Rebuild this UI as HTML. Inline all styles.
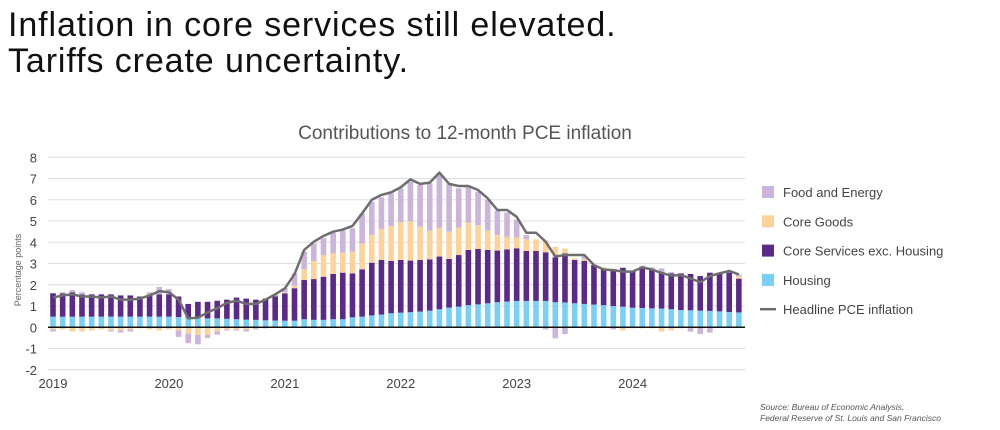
<!DOCTYPE html>
<html><head><meta charset="utf-8"><style>
body{margin:0;background:#fff;width:1000px;height:430px;overflow:hidden;font-family:"Liberation Sans",sans-serif}
.h{position:absolute;left:8px;font-size:34px;color:#111;letter-spacing:0.9px}
</style></head><body>
<div class="h" style="top:6px">Inflation in core services still elevated.</div>
<div class="h" style="top:42px">Tariffs create uncertainty.</div>
<svg id="c" width="1000" height="430" style="position:absolute;left:0;top:0"></svg>
<script>
const years=["2019","2020","2021","2022","2023","2024"];
const yTicks=[-2,-1,0,1,2,3,4,5,6,7,8];
const housing=[.5,.5,.5,.5,.5,.5,.5,.5,.5,.5,.5,.5,.5,.48,.45,.45,.42,.42,.4,.38,.36,.35,.33,.32,
.31,.31,.38,.35,.35,.38,.38,.47,.5,.56,.6,.66,.69,.71,.74,.78,.85,.93,.97,1.04,1.08,1.13,1.18,1.21,1.24,1.24,1.24,1.24,1.18,1.17,1.13,1.1,1.07,1.04,1.0,.97,.92,.91,.89,.88,.85,.81,.8,.78,.77,.75,.72,.7];
const coreServices=[1.1,1.1,1.15,1.05,1.05,1.05,1.05,1.0,1.0,.95,1.0,1.05,1.05,.97,.65,.75,.78,.83,.9,1.02,.99,.95,1.02,1.13,
1.29,1.53,1.85,1.92,2.03,2.13,2.19,2.07,2.23,2.48,2.57,2.46,2.48,2.43,2.43,2.42,2.48,2.29,2.43,2.6,2.61,2.51,2.43,2.46,2.48,2.35,2.35,2.29,2.11,2.31,2.04,2.03,1.86,1.68,1.66,1.83,1.74,1.94,1.85,1.73,1.69,1.73,1.71,1.63,1.8,1.79,1.85,1.59];
const coreGoods=[-.1,-.1,-.2,-.2,-.15,-.1,-.15,-.15,-.1,-.05,-.1,-.15,-.1,-.15,-.3,-.35,-.35,-.2,-.1,-.1,-.1,-.05,0,0,
.05,.11,.5,.85,1.02,.97,.94,1.02,1.22,1.31,1.46,1.65,1.77,1.85,1.57,1.35,1.34,1.28,1.3,1.29,1.11,.91,.74,.6,.51,.55,.55,.55,.5,.23,.08,.07,0,.1,0,-.15,-.05,-.05,-.05,-.2,-.15,-.05,0,0,0,0,0,.12];
const foodEnergy=[-.1,.05,.1,.1,0,0,-.05,-.1,-.1,0,.15,.35,.25,-.3,-.45,-.45,-.15,-.15,-.05,-.05,-.1,-.05,-.05,.1,
.2,.59,.83,.83,.79,.97,1.04,1.1,1.41,1.56,1.49,1.53,1.6,1.86,1.96,2.23,2.58,2.25,1.84,1.69,1.58,1.44,1.14,1.13,.84,.2,0,-.1,-.52,-.32,0,.15,0,0,-.1,0,0,.05,.08,.16,.06,0,-.2,-.32,-.25,0,0,.08];
const headline=[1.4,1.5,1.55,1.45,1.45,1.4,1.45,1.3,1.3,1.35,1.5,1.7,1.65,1.3,.42,.45,.7,.9,1.15,1.25,1.1,1.1,1.3,1.55,
1.83,2.5,3.64,4.03,4.3,4.5,4.6,4.77,5.36,6.0,6.23,6.35,6.59,6.96,6.75,6.81,7.28,6.75,6.65,6.65,6.46,6.07,5.52,5.52,5.2,4.45,4.45,4.03,3.33,3.4,3.4,3.4,2.93,2.72,2.69,2.62,2.62,2.82,2.72,2.56,2.43,2.46,2.3,2.12,2.41,2.54,2.65,2.49];
const seriesNames=["Food and Energy","Core Goods","Core Services exc. Housing","Housing","Headline PCE inflation"];
const colors={h:"#78d0f6",s:"#5b2a88",g:"#fdd39a",f:"#cbb5db",l:"#6e6e6e"};
const NS="http://www.w3.org/2000/svg",svg=document.getElementById("c");
const X=i=>53+i*9.66, Y=v=>327.3-v*21.25;
function mk(t,a,p){const e=document.createElementNS(NS,t);for(const k in a)e.setAttribute(k,a[k]);(p||svg).appendChild(e);return e;}
let t=mk("text",{x:465,y:139,"text-anchor":"middle","font-size":19,fill:"#555"});t.textContent="Contributions to 12-month PCE inflation";


yTicks.forEach(v=>{
 const g=mk("line",{x1:48,x2:745,y1:Y(v),y2:Y(v),stroke:"#dedede","stroke-width":1});
 
 
 const l=mk("text",{x:37,y:Y(v)+5,"text-anchor":"end","font-size":13,fill:"#444"});l.textContent=v;
 
 
});
t=mk("text",{x:21,y:270,"text-anchor":"middle","font-size":9,fill:"#666",transform:"rotate(-90 21 270)"});t.textContent="Percentage points";


const segs=[[housing,colors.h],[coreServices,colors.s],[coreGoods,colors.g],[foodEnergy,colors.f]];
for(let i=0;i<headline.length;i++){
 let pos=0,neg=0;
 segs.forEach(([arr,c])=>{const v=arr[i];let y0,y1;
  if(v>=0){y0=pos;y1=pos+v;pos=y1;}else{y0=neg+v;y1=neg;neg=y0;}
  const r=mk("rect",{x:X(i)-2.8,y:Y(y1),width:5.6,height:Math.max(0,Y(y0)-Y(y1)),fill:c});
  
  
 });
}
const z=mk("line",{x1:48,x2:745,y1:Y(0),y2:Y(0),stroke:"#111","stroke-width":1.5});


const ln=mk("polyline",{points:headline.map((v,i)=>X(i)+","+Y(v)).join(" "),fill:"none",stroke:colors.l,"stroke-width":2.5,"stroke-linejoin":"round"});


years.forEach((y,k)=>{const l=mk("text",{x:X(k*12),y:388,"text-anchor":"middle","font-size":13,fill:"#444"});l.textContent=y;
 
 
});
const lc=[colors.f,colors.g,colors.s,colors.h,colors.l];
seriesNames.forEach((n,k)=>{const y=192+k*29.3;
 const g=mk("g",{});
 
 
 if(k<4)mk("rect",{x:762,y:y-6,width:12,height:12,fill:lc[k]},g);else mk("line",{x1:760,x2:776,y1:y,y2:y,stroke:lc[k],"stroke-width":2.5},g);
 const l=mk("text",{x:783,y:y+5,"font-size":13,fill:"#444"},g);l.textContent=n;
});
[["Source: Bureau of Economic Analysis,",410],["Federal Reserve of St. Louis and San Francisco",421]].forEach(([s,y])=>{
 const l=mk("text",{x:760,y:y,"font-size":8.5,"font-style":"italic",fill:"#555"});l.textContent=s;
 
 
});
</script>
</body></html>
